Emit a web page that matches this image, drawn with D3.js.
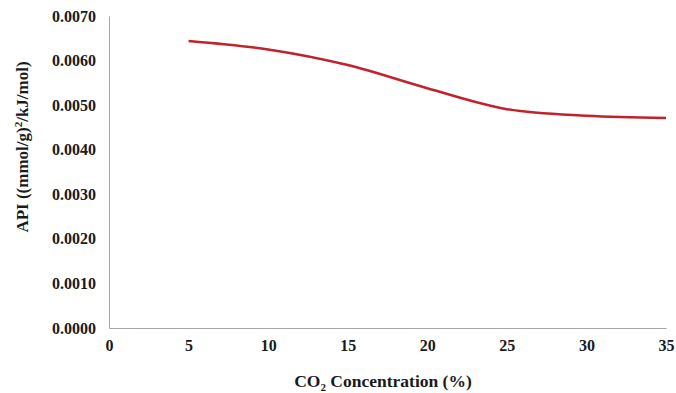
<!DOCTYPE html>
<html>
<head>
<meta charset="utf-8">
<script src="https://cdn.jsdelivr.net/npm/d3@7"></script>
<style>
  body { margin: 0; background: #fff; }
  svg text { font-family: "Times New Roman", "Liberation Serif", "DejaVu Serif", serif !important; font-weight: bold; }
</style>
</head>
<body>
<div id="chart"></div>
<script>
const svgWidth = 676;
const svgHeight = 393;

// data
const co2 = [5, 10, 15, 20, 25, 30, 35];
const api = [0.00644, 0.00625, 0.00590, 0.00538, 0.00491, 0.00476, 0.00471];
const xTicks = [0, 5, 10, 15, 20, 25, 30, 35];
const yTicks = [0, 0.001, 0.002, 0.003, 0.004, 0.005, 0.006, 0.007];

const margin = { top: 16, right: 10, bottom: 65, left: 109 };
const chartWidth = 666 - margin.left;
const chartHeight = 328 - margin.top;

const svg = d3.select('#chart').append('svg').attr('width', svgWidth).attr('height', svgHeight);
const g = svg.append('g').attr('transform', `translate(${margin.left},${margin.top})`);

const xScale = d3.scaleLinear().domain([0, 35]).range([0, chartWidth]);
const yScale = d3.scaleLinear().domain([0, 0.007]).range([chartHeight, 0]);

// axes
const xAxis = g.append('g')
  .attr('transform', `translate(0,${chartHeight})`)
  .call(d3.axisBottom(xScale).tickValues(xTicks).tickSize(0).tickPadding(12).tickFormat(d3.format('d')));
const yAxis = g.append('g')
  .call(d3.axisLeft(yScale).tickValues(yTicks).tickSize(0).tickPadding(13).tickFormat(d3.format('.4f')));

[xAxis, yAxis].forEach(a => {
  a.attr('font-family', null);
  a.select('.domain').attr('stroke', '#a6a6a6').attr('stroke-width', 1);
  a.selectAll('text')
    .style('font-size', '16px')
    .attr('fill', '#1a1a1a');
});

// the curve
const line = d3.line()
  .x((d, i) => xScale(co2[i]))
  .y(d => yScale(d))
  .curve(d3.curveCatmullRom.alpha(0.5));

g.append('path')
  .datum(api)
  .attr('fill', 'none')
  .attr('stroke', '#c0232b')
  .attr('stroke-width', 2.5)
  .attr('d', line);

// y-axis title
const yTitle = svg.append('text')
  .attr('transform', 'translate(28,147) rotate(-90)')
  .attr('text-anchor', 'middle')
  .style('font-size', '17px')
  .attr('fill', '#1a1a1a');
yTitle.append('tspan').text('API ((mmol/g)');
yTitle.append('tspan').attr('dy', -6).style('font-size', '11px').text('2');
yTitle.append('tspan').attr('dy', 6).text('/kJ/mol)');

// x-axis title
const xTitle = svg.append('text')
  .attr('x', 383)
  .attr('y', 387)
  .attr('text-anchor', 'middle')
  .style('font-size', '17.5px')
  .attr('fill', '#1a1a1a');
xTitle.append('tspan').text('CO');
xTitle.append('tspan').attr('dy', 4).style('font-size', '11px').text('2');
xTitle.append('tspan').attr('dy', -4).text(' Concentration (%)');
</script>
</body>
</html>
